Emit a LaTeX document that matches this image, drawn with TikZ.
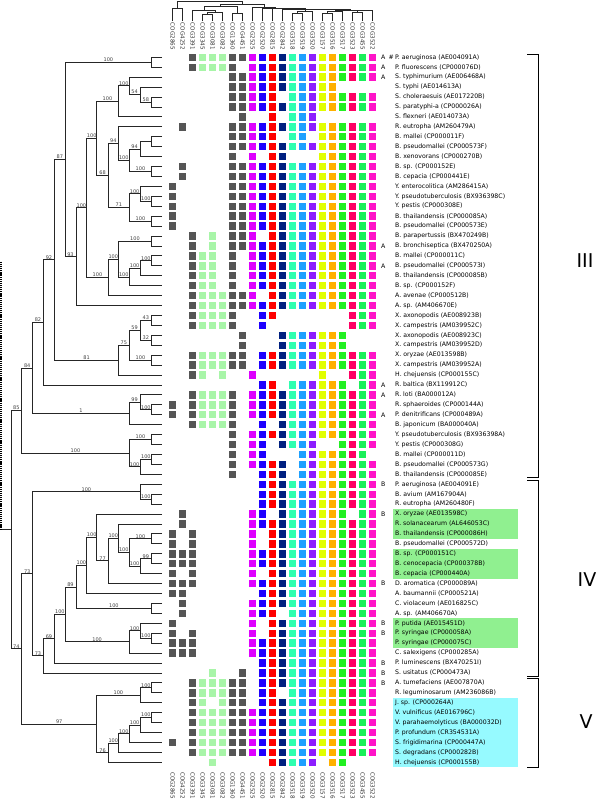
\documentclass[tikz,border=0pt]{standalone}
\usepackage{fontspec}
\setmainfont{DejaVu Sans}
\usetikzlibrary{calc}
\definecolor{c1}{RGB}{85,85,85}
\definecolor{c2}{RGB}{85,85,85}
\definecolor{c3}{RGB}{85,85,85}
\definecolor{c4}{RGB}{168,245,168}
\definecolor{c5}{RGB}{168,245,168}
\definecolor{c6}{RGB}{168,245,168}
\definecolor{c7}{RGB}{85,85,85}
\definecolor{c8}{RGB}{85,85,85}
\definecolor{c9}{RGB}{222,0,255}
\definecolor{c10}{RGB}{30,0,255}
\definecolor{c11}{RGB}{255,0,0}
\definecolor{c12}{RGB}{0,32,128}
\definecolor{c13}{RGB}{46,255,176}
\definecolor{c14}{RGB}{30,160,255}
\definecolor{c15}{RGB}{140,30,255}
\definecolor{c16}{RGB}{225,255,0}
\definecolor{c17}{RGB}{255,176,0}
\definecolor{c18}{RGB}{34,240,34}
\definecolor{c19}{RGB}{255,0,100}
\definecolor{c20}{RGB}{26,240,90}
\definecolor{c21}{RGB}{255,20,200}
\definecolor{hlg}{RGB}{144,240,144}
\definecolor{hlc}{RGB}{150,250,255}
\tikzset{
  br/.style={line width=0.9pt, black!85},
  lbl/.style={font=\fontsize{5}{5.5}\selectfont, text=black!75, inner sep=0.4pt, anchor=south},
  nm/.style={font=\fontsize{6.2}{7}\selectfont, anchor=west, inner sep=0pt},
  cog/.style={font=\fontsize{5.6}{6}\selectfont, text=black!80, inner sep=0pt, rotate=-90},
  roman/.style={font=\fontsize{19}{20}\selectfont},
  brk/.style={line width=1pt, black}
}
\newcommand\nd[6]{%
  \path let \p1=(#3), \p2=(#5) in coordinate (#1) at (#2,{0.5*(\y1+\y2)});
  \draw[br] (#3) -- (#3 -| #1) -- (#5 -| #1) -- (#5);
  \path (#3) -- (#3 -| #1) node[midway, lbl] {#4};
  \path (#5) -- (#5 -| #1) node[midway, lbl] {#6};
}
\newcommand\cnd[4]{%
  \path let \p1=(#3), \p2=(#4) in coordinate (#1) at ({0.5*(\x1+\x2)},#2);
  \draw[br, line width=0.8pt] (#3) -- (#3 |- #1) -- (#4 |- #1) -- (#4);
}
\newcommand\sqrow[2]{\foreach \c in {#2}{\fill[c\c] ({172.7+10*(\c-1)-3.7},{57.3+9.93*(#1-1)-3.7}) rectangle ++(7.4,7.4);}}
\begin{document}
\begin{tikzpicture}[x=1pt,y=-1pt]
\useasboundingbox (0,0) rectangle (600,803);
% highlights
\fill[hlg] (393,{57.3+9.93*46-5}) rectangle (518,{57.3+9.93*48+5});
\fill[hlg] (393,{57.3+9.93*50-5}) rectangle (518,{57.3+9.93*52+5});
\fill[hlg] (393,{57.3+9.93*57-5}) rectangle (518,{57.3+9.93*59+5});
\fill[hlc] (393,{57.3+9.93*65-5}) rectangle (518,{57.3+9.93*71+5});
% leaves
\foreach \i in {1,...,72} \coordinate (l\i) at (162,{57.3+9.93*(\i-1)});
% tree
\nd{n12}{151.7}{l1}{}{l2}{}
\nd{n56}{151.7}{l5}{}{l6}{}
\nd{n4}{140}{l4}{}{n56}{58}
\nd{n3}{129.3}{l3}{}{n4}{54}
\nd{n7}{118.3}{n3}{100}{l7}{}
\nd{n910}{151.7}{l9}{}{l10}{}
\nd{n911}{140}{n910}{}{l11}{}
\nd{n1213}{151.7}{l12}{}{l13}{}
\nd{n913}{129.3}{n911}{94}{n1213}{100}
\nd{n813}{118.3}{l8}{}{n913}{100}
\nd{n1516}{151.7}{l15}{}{l16}{}
\nd{n1416}{140}{l14}{}{n1516}{100}
\nd{n1718}{151.7}{l17}{}{l18}{}
\nd{n1418}{129.3}{n1416}{100}{n1718}{100}
\nd{n818}{108.3}{n813}{94}{n1418}{71}
\nd{n318}{96.7}{n7}{100}{n818}{68}
\nd{n1920}{151.7}{l19}{}{l20}{}
\nd{n2122}{151.7}{l21}{}{l22}{}
\nd{n2123}{140}{n2122}{100}{l23}{}
\nd{n2124}{129.3}{n2123}{100}{l24}{}
\nd{n1924}{118.3}{n1920}{100}{n2124}{100}
\nd{n1925}{108.3}{n1924}{100}{l25}{}
\nd{n325}{86.7}{n318}{100}{n1925}{100}
\nd{n326}{76}{n325}{100}{l26}{}
\nd{n126}{65}{n12}{100}{n326}{93}
\nd{n2728}{151.7}{l27}{}{l28}{}
\nd{n2930}{151.7}{l29}{}{l30}{}
\nd{n2730}{140}{n2728}{43}{n2930}{32}
\nd{n3132}{151.7}{l31}{}{l32}{}
\nd{n2732}{129.3}{n2730}{59}{n3132}{100}
\nd{n2733}{118.3}{n2732}{75}{l33}{}
\nd{n133}{54.7}{n126}{87}{n2733}{81}
\nd{n134}{43.3}{n133}{92}{l34}{}
\nd{n3637}{151.7}{l36}{}{l37}{}
\nd{n3537}{140}{l35}{}{n3637}{100}
\nd{n3538}{129.3}{n3537}{99}{l38}{}
\nd{n138}{32.7}{n134}{82}{n3538}{1}
\nd{n3940}{151.7}{l39}{}{l40}{}
\nd{n4142}{151.7}{l41}{}{l42}{}
\nd{n4143}{140}{n4142}{100}{l43}{}
\nd{n3943}{129.3}{n3940}{100}{n4143}{100}
\nd{n143}{21.7}{n138}{84}{n3943}{100}
\nd{n4546}{151.7}{l45}{}{l46}{}
\nd{n4446}{140}{l44}{}{n4546}{100}
\nd{n4950}{151.7}{l49}{}{l50}{}
\nd{n5152}{151.7}{l51}{}{l52}{}
\nd{n5153}{140}{n5152}{99}{l53}{}
\nd{n4953}{129.3}{n4950}{100}{n5153}{100}
\nd{n4853}{118.3}{l48}{}{n4953}{100}
\nd{n4854}{108.3}{n4853}{100}{l54}{}
\nd{n4754}{96.7}{l47}{}{n4854}{77}
\nd{n4755}{86.7}{n4754}{100}{l55}{}
\nd{n5657}{151.7}{l56}{}{l57}{}
\nd{n4757}{76}{n4755}{100}{n5657}{100}
\nd{n5960}{151.7}{l59}{}{l60}{}
\nd{n5860}{140}{l58}{}{n5960}{100}
\nd{n5861}{129.3}{n5860}{100}{l61}{}
\nd{n4761}{65}{n4757}{89}{n5861}{100}
\nd{n4762}{54.7}{n4761}{100}{l62}{}
\nd{n4763}{43.3}{n4762}{69}{l63}{}
\nd{n4463}{32.7}{n4446}{100}{n4763}{73}
\nd{n6465}{151.7}{l64}{}{l65}{}
\nd{n6466}{140}{n6465}{100}{l66}{}
\nd{n6768}{151.7}{l67}{}{l68}{}
\nd{n6769}{140}{n6768}{100}{l69}{}
\nd{n6770}{129.3}{n6769}{100}{l70}{}
\nd{n6771}{118.3}{n6770}{100}{l71}{}
\nd{n6772}{108.3}{n6771}{100}{l72}{}
\nd{n6472}{96.7}{n6466}{100}{n6772}{76}
\nd{n4472}{21.7}{n4463}{73}{n6472}{97}
\nd{root}{11}{n143}{85}{n4472}{74}
\draw[br] (root) -- ++(-11,0) coordinate (rootend);
\draw[line width=1.2pt, dash pattern=on 1.2pt off 0.9pt] (rootend) ++(1,0) -- ++(0,-268);
% matrix
\sqrow{1}{3,4,5,6,7,8,9,10,11,12,...,21}
\sqrow{2}{3,4,5,6,7,9,10,11,12,...,21}
\sqrow{3}{7,8,9,10,11,12,...,21}
\sqrow{4}{7,8,9,10,11,12,13,14,15,16,17}
\sqrow{5}{7,8,9,10,11,13,14,15,16,17,18,19,20,21}
\sqrow{6}{7,8,9,10,11,12,...,21}
\sqrow{7}{8,11,13,14,15}
\sqrow{8}{2,7,8,9,10,11,12,...,21}
\sqrow{9}{7,8,9,10,11,13,14,16,17,18,19,20,21}
\sqrow{10}{7,8,9,10,11,12,...,21}
\sqrow{11}{7,9,11,12,16,17,18,19,20,21}
\sqrow{12}{2,7,8,9,10,11,12,...,21}
\sqrow{13}{2,7,8,9,10,11,12,...,21}
\foreach \r in {14,...,18}{\sqrow{\r}{1,7,8,9,10,11,12,...,21}}
\sqrow{19}{3,5,7,8,9,11,12,...,21}
\sqrow{20}{3,5,7,8,9,10,11,12,...,21}
\foreach \r in {21,...,24}{\sqrow{\r}{3,4,5,7,9,10,11,12,...,21}}
\sqrow{25}{3,4,5,6,7,8,9,11,12,...,21}
\sqrow{26}{3,4,...,21}
\sqrow{27}{3,4,5,6,7,10,11,19,20,21}
\sqrow{28}{3,4,5,6,7,10,19,20,21}
\sqrow{29}{8,12,13,14,15,16,17,18}
\sqrow{30}{8,12,13,14,15,16,17,18}
\sqrow{31}{3,4,5,6,7,8,10,11,12,...,21}
\sqrow{32}{3,4,5,6,7,8,10,11,12,...,21}
\sqrow{33}{3,4,6,9,16,19,20,21}
\sqrow{34}{10,11,13,14,15,16,17,18,20,21}
\sqrow{35}{3,4,5,6,7,9,10,11,12,...,21}
\sqrow{36}{1,3,4,5,6,7,9,10,11,12,...,21}
\sqrow{37}{1,3,4,5,6,7,9,10,11,12,...,21}
\sqrow{38}{3,4,5,6,7,10,12,13,...,21}
\sqrow{39}{7,9,10,11,12,...,21}
\sqrow{40}{7,9,10,12,13,14,15,18,19,20,21}
\sqrow{41}{7,9,10,14,15,16,17,18,19,20}
\sqrow{42}{7,9,10,11,12,14,15,...,21}
\sqrow{43}{7,10,11,12,14,15,...,21}
\foreach \r in {44,45,46}{\sqrow{\r}{10,11,12,...,21}}
\sqrow{47}{2,9,10,12,13,14,15,16,17,18,20,21}
\sqrow{48}{2,9,10,11,12,...,21}
\sqrow{49}{1,3,9,11,12,...,21}
\sqrow{50}{1,3,9,11,12,...,21}
\sqrow{51}{1,2,3,9,10,11,12,...,21}
\sqrow{52}{1,2,3,9,10,11,12,...,21}
\sqrow{53}{1,3,9,11,12,...,21}
\sqrow{54}{1,2,3,9,10,11,12,...,21}
\sqrow{55}{1,2,10,11,12,...,21}
\sqrow{56}{2,9,10,11,12,...,21}
\sqrow{57}{2,9,10,11,13,14,...,21}
\sqrow{58}{1,9,11,12,...,21}
\sqrow{59}{1,3,9,11,12,...,21}
\sqrow{60}{1,2,3,9,10,11,12,...,21}
\sqrow{61}{1,2,3,9,10,11,12,...,21}
\sqrow{62}{10,11,12,...,21}
\sqrow{63}{5,8,10,11,12,...,21}
\sqrow{64}{3,4,5,6,7,8,10,11,12,...,21}
\sqrow{65}{3,4,5,6,7,8,10,11,13,14,...,21}
\sqrow{66}{3,4,6,7,8,10,11,12,...,21}
\foreach \r in {67,68,69,71}{\sqrow{\r}{3,4,...,21}}
\sqrow{70}{1,3,4,...,21}
\sqrow{72}{5,11,12,13,14,15,17,18}
% column labels
\foreach \j/\t in {1/COG2865,2/COG4252,3/COG3391,4/COG3345,5/COG3081,6/COG3082,7/COG1360,8/COG4451,9/COG2525,10/COG2520,11/COG2815,12/COG2842,13/COG3518,14/COG3519,15/COG3520,16/COG3157,17/COG3516,18/COG3517,19/COG3523,20/COG3455,21/COG3522}{
  \node[cog, anchor=east] (ct\j) at ({172.7+10*(\j-1)},50) {\t};
  \node[cog, anchor=west] (cb\j) at ({172.7+10*(\j-1)},772) {\t};
  \coordinate (tc\j) at ({172.7+10*(\j-1)},21);
}
% column dendrogram (approximate)
\cnd{t12}{8}{tc1}{tc2}
\cnd{t45}{14}{tc4}{tc5}
\cnd{t456}{12}{t45}{tc6}
\cnd{t36}{10}{tc3}{t456}
\cnd{t78}{13}{tc7}{tc8}
\cnd{t38}{6}{t36}{t78}
\cnd{tA}{13}{tc13}{tc14}
\cnd{tB}{13}{tc16}{tc17}
\cnd{tC}{12}{tc19}{tc20}
\cnd{tD}{11}{tB}{tc18}
\cnd{tE}{10.5}{tC}{tc21}
\cnd{tF}{11}{tA}{tc15}
\cnd{tG}{10}{tD}{tE}
\cnd{tH}{9.5}{tF}{tG}
\cnd{tI}{9}{tc12}{tH}
\cnd{tJ}{8.5}{tc11}{tI}
\cnd{tK}{8}{tc10}{tJ}
\cnd{tL}{7}{tc9}{tK}
\cnd{tM}{4.5}{t38}{tL}
\cnd{troot}{1.7}{t12}{tM}
% row names
\foreach \i/\t in {1/P. aeruginosa (AE004091A),2/P. fluorescens (CP000076D),3/S. typhimurium (AE006468A),4/S. typhi (AE014613A),5/S. choleraesuis (AE017220B),6/S. paratyphi-a (CP000026A),7/S. flexneri (AE014073A),8/R. eutropha (AM260479A),9/B. mallei (CP000011F),10/B. pseudomallei (CP000573F),11/B. xenovorans (CP000270B),12/B. sp. (CP000152E),13/B. cepacia (CP000441E),14/Y. enterocolitica (AM286415A),15/Y. pseudotuberculosis (BX936398C),16/Y. pestis (CP000308E),17/B. thailandensis (CP000085A),18/B. pseudomallei (CP000573E),19/B. parapertussis (BX470249B),20/B. bronchiseptica (BX470250A),21/B. mallei (CP000011C),22/B. pseudomallei (CP000573I),23/B. thailandensis (CP000085B),24/B. sp. (CP000152F),25/A. avenae (CP000512B),26/A. sp. (AM406670E),27/X. axonopodis (AE008923B),28/X. campestris (AM039952C),29/X. axonopodis (AE008923C),30/X. campestris (AM039952D),31/X. oryzae (AE013598B),32/X. campestris (AM039952A),33/H. chejuensis (CP000155C),34/R. baltica (BX119912C),35/R. loti (BA000012A),36/R. sphaeroides (CP000144A),37/P. denitrificans (CP000489A),38/B. japonicum (BA000040A),39/Y. pseudotuberculosis (BX936398A),40/Y. pestis (CP000308G),41/B. mallei (CP000011D),42/B. pseudomallei (CP000573G),43/B. thailandensis (CP000085E),44/P. aeruginosa (AE004091E),45/B. avium (AM167904A),46/R. eutropha (AM260480F),47/X. oryzae (AE013598C),48/R. solanacearum (AL646053C),49/B. thailandensis (CP000086H),50/B. pseudomallei (CP000572D),51/B. sp. (CP000151C),52/B. cenocepacia (CP000378B),53/B. cepacia (CP000440A),54/D. aromatica (CP000089A),55/A. baumannii (CP000521A),56/C. violaceum (AE016825C),57/A. sp. (AM406670A),58/P. putida (AE015451D),59/P. syringae (CP000058A),60/P. syringae (CP000075C),61/C. salexigens (CP000285A),62/P. luminescens (BX470251I),63/S. usitatus (CP000473A),64/A. tumefaciens (AE007870A),65/R. leguminosarum (AM236086B),66/J. sp. (CP000264A),67/V. vulnificus (AE016796C),68/V. parahaemolyticus (BA000032D),69/P. profundum (CR354531A),70/S. frigidimarina (CP000447A),71/S. degradans (CP000282B),72/H. chejuensis (CP000155B)}
  \node[nm] (t\i) at (395,{57.3+9.93*(\i-1)}) {\t};
\foreach \i/\t in {1/A,2/A,3/A,20/A,22/A,34/A,35/A,37/A,44/B,47/B,54/B,58/B,59/B,62/B,63/B,64/B}
  \node[nm] (g\i) at (381,{57.3+9.93*(\i-1)}) {\t};
\node[nm] (hash) at (388.5,57.3) {\#};
% brackets
\draw[brk] (527,54) -- (538,54) -- (538,477) -- (527,477);
\draw[brk] (527,480) -- (538,480) -- (538,676) -- (527,676);
\draw[brk] (527,678) -- (538,678) -- (538,767) -- (527,767);
\node[roman] (r3) at (585,261) {III};
\node[roman] (r4) at (587,580) {IV};
\node[roman] (r5) at (586,722) {V};
\end{tikzpicture}
\end{document}
